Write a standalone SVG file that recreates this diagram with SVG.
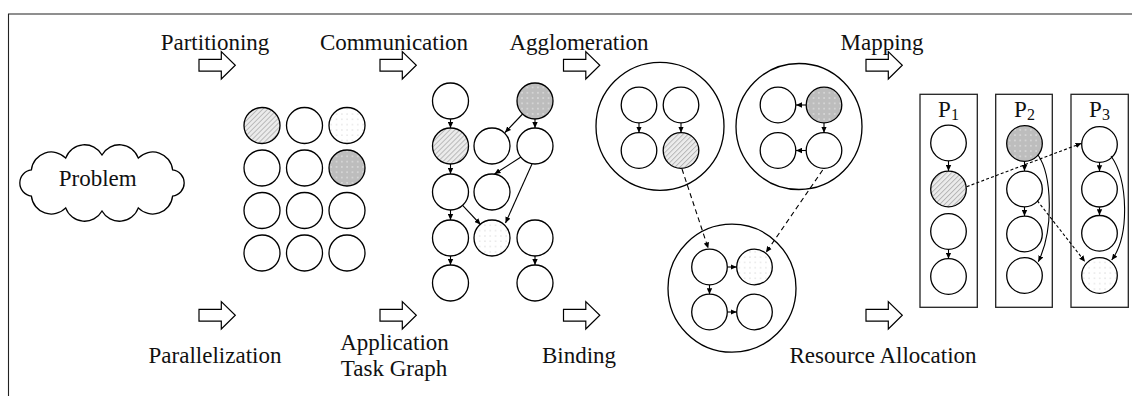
<svg xmlns="http://www.w3.org/2000/svg" width="1132" height="396" viewBox="0 0 1132 396" font-family="'Liberation Serif', 'DejaVu Serif', 'Noto Serif', serif">
  <defs>
    <style>
      text { font-family: 'Liberation Serif', 'Times New Roman', 'DejaVu Serif', serif; font-size: 23px; fill: #111; }
      .n { fill: #fff; stroke: #000; stroke-width: 1.3; }
      .hatch { fill: url(#hatch); }
      .dark { fill: url(#darkdots); }
      .light { fill: url(#lightdots); }
      .big { fill: none; stroke: #000; stroke-width: 1.3; }
      .proc { fill: #fff; stroke: #222; stroke-width: 1.3; }
      .e { fill: none; stroke: #000; stroke-width: 1.1; marker-end: url(#ah); }
      .d { fill: none; stroke: #000; stroke-width: 1.1; stroke-dasharray: 5 3.5; marker-end: url(#ah); }
      .dd { fill: none; stroke: #000; stroke-width: 1.1; stroke-dasharray: 3 2.2; marker-end: url(#ah); }
      .blk { fill: #fff; stroke: #000; stroke-width: 1.2; }
    </style>
    <marker id="ah" viewBox="0 0 8 8" refX="8" refY="4" markerWidth="6" markerHeight="6" markerUnits="userSpaceOnUse" orient="auto">
      <path d="M0,0.4 L8,4 L0,7.6 z" fill="#000"/>
    </marker>
    <pattern id="hatch" patternUnits="userSpaceOnUse" width="3.5" height="3.5" patternTransform="rotate(45)">
      <rect width="3.5" height="3.5" fill="#ececec"/>
      <line x1="0.5" y1="0" x2="0.5" y2="3.5" stroke="#b2b2b2" stroke-width="0.9"/>
    </pattern>
    <pattern id="darkdots" patternUnits="userSpaceOnUse" width="5.3" height="5.3">
      <rect width="5.3" height="5.3" fill="#bdbdbd"/>
      <circle cx="2.65" cy="2.65" r="0.6" fill="#fff"/>
    </pattern>
    <pattern id="lightdots" patternUnits="userSpaceOnUse" width="5.3" height="5.3">
      <rect width="5.3" height="5.3" fill="#fff"/>
      <circle cx="2.65" cy="2.65" r="0.55" fill="#b0b0b0"/>
    </pattern>
    <!-- hollow block arrow, origin at the tail middle -->
    <path id="blkarrow" d="M0,-5.85 H22.3 V-13.7 L36.3,0 L22.3,13.7 V5.85 H0 Z"/>
  </defs>

  <rect width="1132" height="396" fill="#fff"/>

  <!-- frame -->
  <line x1="8" y1="14" x2="1132" y2="14" stroke="#6a6a6a" stroke-width="1.4"/>
  <line x1="8.5" y1="14" x2="8.5" y2="396" stroke="#222" stroke-width="1.1"/>

  <!-- step labels and block arrows -->
  <g id="steps">
    <text x="215" y="50" text-anchor="middle">Partitioning</text>
    <text x="394" y="50" text-anchor="middle">Communication</text>
    <text x="579" y="50" text-anchor="middle">Agglomeration</text>
    <text x="882" y="50" text-anchor="middle">Mapping</text>
    <use href="#blkarrow" x="199" y="65.3" class="blk"/>
    <use href="#blkarrow" x="380" y="65.3" class="blk"/>
    <use href="#blkarrow" x="563.5" y="65.3" class="blk"/>
    <use href="#blkarrow" x="866" y="65.3" class="blk"/>

    <use href="#blkarrow" x="199" y="315.3" class="blk"/>
    <use href="#blkarrow" x="380" y="315.3" class="blk"/>
    <use href="#blkarrow" x="563.5" y="315.3" class="blk"/>
    <use href="#blkarrow" x="866" y="315.3" class="blk"/>
    <text x="215" y="362.5" text-anchor="middle">Parallelization</text>
    <text x="394.5" y="350" text-anchor="middle">Application</text>
    <text x="394" y="375.5" text-anchor="middle">Task Graph</text>
    <text x="579" y="362.5" text-anchor="middle">Binding</text>
    <text x="883" y="362.5" text-anchor="middle">Resource Allocation</text>
  </g>

  <!-- problem cloud -->
  <g id="problem">
    <path class="n" d="M172.6,196.1 A20,20 0 0 1 138.3,207.9 A20,20 0 0 1 102,211 A20,20 0 0 1 65.7,207.9 A20,20 0 0 1 31.4,196.1 A13.2,13.2 0 0 1 31.4,169.9 A20,20 0 0 1 65.7,158.1 A20,20 0 0 1 102,155 A20,20 0 0 1 138.3,158.1 A20,20 0 0 1 172.6,169.9 A13.2,13.2 0 0 1 172.6,196.1 Z"/>
    <text x="97.7" y="186" text-anchor="middle">Problem</text>
  </g>

  <!-- partitioned tasks -->
  <g id="partition">
    <circle id="t11" class="n hatch" cx="262" cy="125.5" r="18"/>
    <circle id="t12" class="n" cx="304.5" cy="125.5" r="18"/>
    <circle id="t13" class="n light" cx="347" cy="125.5" r="18"/>
    <circle id="t21" class="n" cx="262" cy="168" r="18"/>
    <circle id="t22" class="n" cx="304.5" cy="168" r="18"/>
    <circle id="t23" class="n dark" cx="347" cy="168" r="18"/>
    <circle id="t31" class="n" cx="262" cy="210.5" r="18"/>
    <circle id="t32" class="n" cx="304.5" cy="210.5" r="18"/>
    <circle id="t33" class="n" cx="347" cy="210.5" r="18"/>
    <circle id="t41" class="n" cx="262" cy="253" r="18"/>
    <circle id="t42" class="n" cx="304.5" cy="253" r="18"/>
    <circle id="t43" class="n" cx="347" cy="253" r="18"/>
  </g>

  <!-- application task graph -->
  <g id="taskgraph">
    <circle id="a1" class="n" cx="450.5" cy="101" r="18"/>
    <circle id="a2" class="n hatch" cx="450.5" cy="146" r="18"/>
    <circle id="a3" class="n" cx="450.5" cy="192" r="18"/>
    <circle id="a4" class="n" cx="450.5" cy="238" r="18"/>
    <circle id="a5" class="n" cx="450.5" cy="283" r="18"/>
    <circle id="b2" class="n" cx="492" cy="146" r="18"/>
    <circle id="b3" class="n" cx="492" cy="192" r="18"/>
    <circle id="b4" class="n light" cx="492" cy="238" r="18"/>
    <circle id="c1" class="n dark" cx="535" cy="101" r="18"/>
    <circle id="c2" class="n" cx="535" cy="146" r="18"/>
    <circle id="c4" class="n" cx="535" cy="238" r="18"/>
    <circle id="c5" class="n" cx="535" cy="283" r="18"/>
  </g>

  <!-- agglomerated clusters -->
  <g id="cluster1">
    <circle class="big" cx="660" cy="126.3" r="64"/>
    <circle class="n" cx="639" cy="105" r="17.8"/>
    <circle class="n" cx="681" cy="105" r="17.8"/>
    <circle class="n" cx="639" cy="150.5" r="17.8"/>
    <circle class="n hatch" cx="681" cy="150.5" r="17.8"/>
  </g>
  <g id="cluster2">
    <circle class="big" cx="799" cy="126.5" r="63"/>
    <circle class="n" cx="778" cy="105" r="17.8"/>
    <circle class="n dark" cx="824" cy="105" r="17.8"/>
    <circle class="n" cx="778" cy="150.5" r="17.8"/>
    <circle class="n" cx="824" cy="150.5" r="17.8"/>
  </g>
  <g id="cluster3">
    <circle class="big" cx="732" cy="288.2" r="64"/>
    <circle class="n" cx="709.5" cy="267" r="17.8"/>
    <circle class="n light" cx="754.5" cy="267" r="17.8"/>
    <circle class="n" cx="709.5" cy="312" r="17.8"/>
    <circle class="n" cx="754.5" cy="312" r="17.8"/>
  </g>

  <!-- processors -->
  <g id="proc1">
    <rect class="proc" x="920" y="94.3" width="57.3" height="213"/>
    <text x="948.5" y="117" text-anchor="middle">P<tspan font-size="16" dy="3">1</tspan></text>
    <circle class="n" cx="948.5" cy="143" r="17.8"/>
    <circle class="n hatch" cx="948.5" cy="189" r="17.8"/>
    <circle class="n" cx="948.5" cy="231.5" r="17.8"/>
    <circle class="n" cx="948.5" cy="276.5" r="17.8"/>
  </g>
  <g id="proc2">
    <rect class="proc" x="995.7" y="94.3" width="56.6" height="213"/>
    <text x="1024.5" y="117" text-anchor="middle">P<tspan font-size="16" dy="3">2</tspan></text>
    <circle class="n dark" cx="1024.5" cy="143.5" r="17.8"/>
    <circle class="n" cx="1024.5" cy="189" r="17.8"/>
    <circle class="n" cx="1024.5" cy="234" r="17.8"/>
    <circle class="n" cx="1024.5" cy="275.5" r="17.8"/>
  </g>
  <g id="proc3">
    <rect class="proc" x="1071" y="94.3" width="57.3" height="213"/>
    <text x="1099.5" y="117" text-anchor="middle">P<tspan font-size="16" dy="3">3</tspan></text>
    <circle class="n" cx="1099.5" cy="144.5" r="17.8"/>
    <circle class="n" cx="1099.5" cy="189.2" r="17.8"/>
    <circle class="n" cx="1099.5" cy="233.3" r="17.8"/>
    <circle class="n light" cx="1099.5" cy="275.5" r="17.8"/>
  </g>

  <!-- connectors -->
  <g id="edges">
    <!-- task graph -->
    <line class="e" x1="450.5" y1="119" x2="450.5" y2="128"/>
    <line class="e" x1="450.5" y1="164" x2="450.5" y2="174"/>
    <line class="e" x1="450.5" y1="210" x2="450.5" y2="220"/>
    <line class="e" x1="450.5" y1="256" x2="450.5" y2="265"/>
    <line class="e" x1="535" y1="119" x2="535" y2="128"/>
    <line class="e" x1="535" y1="256" x2="535" y2="265"/>
    <line class="e" x1="522.6" y1="114" x2="505" y2="132.5"/>
    <line class="e" x1="521" y1="157" x2="494.5" y2="174"/>
    <line class="e" x1="532" y1="164" x2="505.5" y2="223"/>
    <line class="e" x1="462.6" y1="205.4" x2="480.5" y2="224.5"/>

    <!-- clusters -->
    <line class="e" x1="639" y1="123" x2="639" y2="132.7"/>
    <line class="e" x1="681" y1="123" x2="681" y2="132.7"/>
    <line class="e" x1="806" y1="105" x2="796" y2="105"/>
    <line class="e" x1="824" y1="123" x2="824" y2="132.7"/>
    <line class="e" x1="806" y1="150.5" x2="796" y2="150.5"/>
    <line class="e" x1="727.5" y1="267" x2="736.7" y2="267"/>
    <line class="e" x1="709.5" y1="285" x2="709.5" y2="294.2"/>
    <line class="e" x1="727.5" y1="312" x2="736.7" y2="312"/>
    <line class="d" x1="682" y1="169" x2="708.3" y2="248.5"/>
    <line class="d" x1="822.7" y1="170" x2="766" y2="252.5"/>

    <!-- processors -->
    <line class="e" x1="948.5" y1="161" x2="948.5" y2="171"/>
    <line class="e" x1="948.5" y1="249.5" x2="948.5" y2="258.7"/>
    <line class="e" x1="1024.5" y1="161.5" x2="1024.5" y2="171"/>
    <line class="e" x1="1024.5" y1="207" x2="1024.5" y2="216"/>
    <line class="e" x1="1099.5" y1="162.5" x2="1099.5" y2="171.2"/>
    <line class="e" x1="1099.5" y1="207.2" x2="1099.5" y2="215.3"/>
    <path class="e" d="M1038,155 C1052,175 1054,230 1038.3,261.7"/>
    <path class="e" d="M1111,156 C1128,180 1130,235 1111.7,260"/>
    <line class="dd" x1="966.7" y1="186.7" x2="1081.5" y2="143.3"/>
    <line class="dd" x1="1037.3" y1="200.7" x2="1085" y2="261.7"/>
  </g>
</svg>
